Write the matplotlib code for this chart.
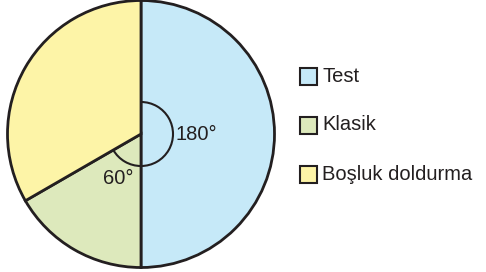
import matplotlib
matplotlib.use("Agg")
import matplotlib.pyplot as plt
from matplotlib.patches import Rectangle, Arc

# data
labels = ["Test", "Klasik", "Boşluk doldurma"]
degrees = [180, 60, 120]
colors = ["#c6e9f8", "#dde9bc", "#fdf4a7"]
edge = "#231f20"

plt.rcParams["font.family"] = ["Liberation Sans", "DejaVu Sans"]

fig = plt.figure(figsize=(4.86, 2.72), dpi=100)
ax = fig.add_axes([0, 0, 1, 1])

cx, cy, r = 141, 138, 133.5
wedges, _ = ax.pie(degrees, colors=colors, startangle=90, counterclock=False,
                   center=(cx, cy), radius=r, frame=True,
                   wedgeprops=dict(edgecolor=edge, linewidth=2))
ax.set_xlim(0, 486)
ax.set_ylim(0, 272)
ax.set_aspect("equal")
ax.axis("off")

# angle markers (arc from top clockwise through Test and Klasik)
ar = 32
ax.add_patch(Arc((cx, cy), 2 * ar, 2 * ar, theta1=90 - degrees[0] - degrees[1],
                 theta2=90, color=edge, linewidth=1.5))
ax.text(cx + ar + 2, cy, f"{degrees[0]}°", fontsize=14.5, va="center", ha="left", color=edge)
ax.text(cx - 8, cy - 44, f"{degrees[1]}°", fontsize=14.5, va="center", ha="right", color=edge)

# legend
sq = 17
for i, (lab, col) in enumerate(zip(labels, colors)):
    yc = 272 - 76 - i * 49
    ax.add_patch(Rectangle((300, yc - sq / 2), sq, sq, facecolor=col, edgecolor=edge, linewidth=1.5))
    ax.text(322, yc, lab, fontsize=14.5, va="center", ha="left", color=edge)

fig.savefig("out.png", dpi=100)
